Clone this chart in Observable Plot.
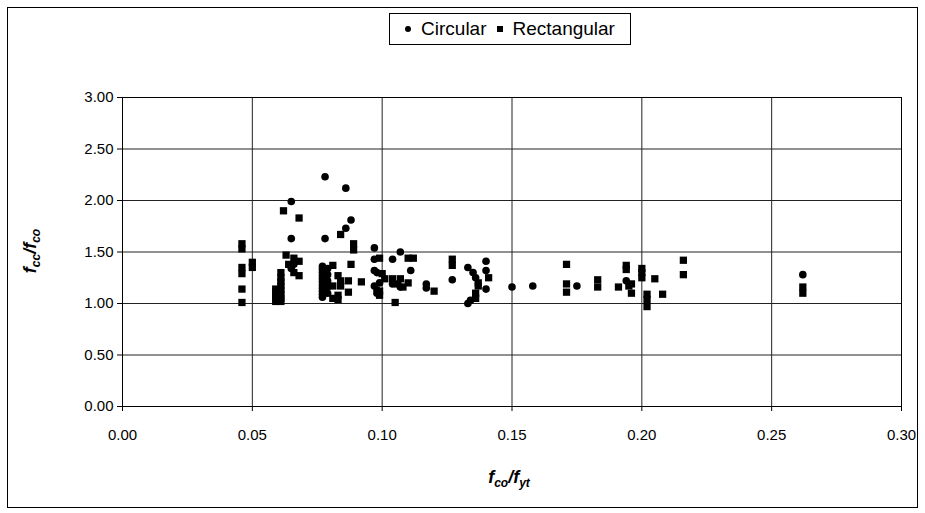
<!DOCTYPE html>
<html><head><meta charset="utf-8">
<script src="https://cdn.jsdelivr.net/npm/d3@7"></script>
<script src="https://cdn.jsdelivr.net/npm/@observablehq/plot@0.6"></script>
<style>
body{margin:0;background:#fff;}
#wrap{position:relative;width:925px;height:513px;font-family:"Liberation Sans",Arial,sans-serif;color:#000;}
#border{position:absolute;left:7px;top:7px;width:909px;height:499px;border:1px solid #000;pointer-events:none;}
#legend{position:absolute;left:389px;top:13px;width:240px;height:30px;border:1px solid #000;background:#fff;font-size:19px;display:flex;align-items:center;justify-content:center;white-space:nowrap;}
#legend .c{display:inline-block;width:6px;height:6px;border-radius:50%;background:#000;margin:0 10px 0 0;}
#legend .s{display:inline-block;width:6px;height:6px;background:#000;margin:0 10px 0 10px;}
.ttl{position:absolute;font-weight:bold;font-style:italic;font-size:18px;white-space:nowrap;}
.ttl sub{font-size:12px;vertical-align:-4px;}
</style></head>
<body>
<div id="wrap">
  <div id="chart"></div>
  <div id="border"></div>
  <div id="legend"><span class="c"></span>Circular<span class="s"></span>Rectangular</div>
  <div class="ttl" id="xt" style="left:509px;top:478px;transform:translate(-50%,-50%);">f<sub>co</sub>/f<sub>yt</sub></div>
  <div class="ttl" id="yt" style="left:31px;top:251px;transform:translate(-50%,-50%) rotate(-90deg);">f<sub>cc</sub>/f<sub>co</sub></div>
</div>
<script>
const xTicks = [0, 0.05, 0.10, 0.15, 0.20, 0.25, 0.30];
const yTicks = [0, 0.5, 1.0, 1.5, 2.0, 2.5, 3.0];

const circular = [
  [0.065,1.99],[0.065,1.63],[0.078,2.23],[0.078,1.63],[0.086,2.12],[0.086,1.73],[0.088,1.81],
  [0.065,1.34],[0.066,1.38],
  [0.077,1.36],[0.077,1.33],[0.077,1.30],[0.077,1.27],[0.077,1.24],[0.077,1.21],[0.077,1.18],
  [0.077,1.15],[0.077,1.12],[0.077,1.09],[0.077,1.06],
  [0.079,1.34],[0.079,1.28],[0.079,1.22],[0.079,1.16],[0.079,1.10],
  [0.097,1.54],[0.097,1.43],[0.097,1.32],[0.098,1.30],[0.097,1.17],[0.098,1.13],[0.098,1.10],[0.099,1.20],
  [0.107,1.50],[0.104,1.43],[0.111,1.32],[0.104,1.19],[0.107,1.16],
  [0.117,1.19],[0.117,1.15],[0.127,1.23],
  [0.133,1.35],[0.135,1.30],[0.136,1.25],[0.134,1.03],[0.133,1.00],
  [0.140,1.41],[0.140,1.32],[0.140,1.14],
  [0.150,1.16],[0.158,1.17],[0.175,1.17],[0.194,1.22],[0.262,1.28]
];

const rectangular = [
  [0.046,1.58],[0.046,1.53],[0.046,1.35],[0.046,1.29],[0.046,1.14],[0.046,1.01],
  [0.050,1.40],[0.050,1.35],
  [0.059,1.02],[0.059,1.05],[0.059,1.08],[0.059,1.11],[0.059,1.14],
  [0.061,1.02],[0.061,1.05],[0.061,1.09],[0.061,1.13],[0.061,1.17],[0.061,1.21],[0.061,1.25],[0.061,1.30],
  [0.062,1.90],[0.063,1.47],[0.066,1.44],[0.064,1.38],[0.066,1.30],
  [0.068,1.83],[0.068,1.41],[0.068,1.27],
  [0.081,1.37],[0.081,1.17],[0.081,1.05],
  [0.083,1.27],[0.083,1.08],[0.083,1.04],
  [0.084,1.67],[0.084,1.17],[0.084,1.22],
  [0.087,1.22],[0.087,1.11],[0.088,1.38],[0.089,1.58],[0.089,1.52],[0.092,1.21],
  [0.099,1.44],[0.099,1.08],[0.099,1.12],[0.100,1.29],[0.101,1.24],[0.104,1.24],
  [0.105,1.01],[0.106,1.19],[0.107,1.24],[0.108,1.16],[0.110,1.44],[0.110,1.20],[0.112,1.44],
  [0.120,1.12],[0.127,1.43],[0.127,1.37],
  [0.137,1.20],[0.137,1.17],[0.136,1.10],[0.136,1.05],[0.141,1.25],
  [0.171,1.38],[0.171,1.19],[0.171,1.11],
  [0.183,1.23],[0.183,1.16],
  [0.194,1.37],[0.194,1.33],[0.191,1.16],[0.195,1.17],[0.196,1.19],[0.196,1.10],
  [0.200,1.34],[0.200,1.30],[0.200,1.25],[0.205,1.24],
  [0.202,1.09],[0.202,1.04],[0.202,0.97],[0.208,1.09],
  [0.216,1.42],[0.216,1.28],
  [0.262,1.16],[0.262,1.10]
];

const fmt = d => d.toFixed(2);
const plot = Plot.plot({
  width: 925, height: 513,
  marginLeft: 122, marginRight: 24, marginTop: 97, marginBottom: 107,
  style: {fontFamily: '"Liberation Sans", Arial, sans-serif', fontSize: "15px", color: "#000", background: "transparent", overflow: "visible"},
  x: {domain: [0, 0.30]},
  y: {domain: [0, 3]},
  marks: [
    Plot.gridX(xTicks, {stroke: "#222", strokeOpacity: 1}),
    Plot.gridY(yTicks, {stroke: "#222", strokeOpacity: 1}),
    Plot.frame({stroke: "#000"}),
    Plot.axisX(xTicks, {tickFormat: fmt, tickSize: 5, tickPadding: 18, label: null, fontSize: 15}),
    Plot.axisY(yTicks, {tickFormat: fmt, tickSize: 5, tickPadding: 4, label: null, fontSize: 15}),
    Plot.dot(circular, {x: d => d[0], y: d => d[1], r: 3.8, fill: "#000", stroke: "none"}),
    Plot.dot(rectangular, {x: d => d[0], y: d => d[1], symbol: "square", r: 4.1, fill: "#000", stroke: "none"})
  ]
});
document.getElementById("chart").appendChild(plot);
</script>
</body></html>
